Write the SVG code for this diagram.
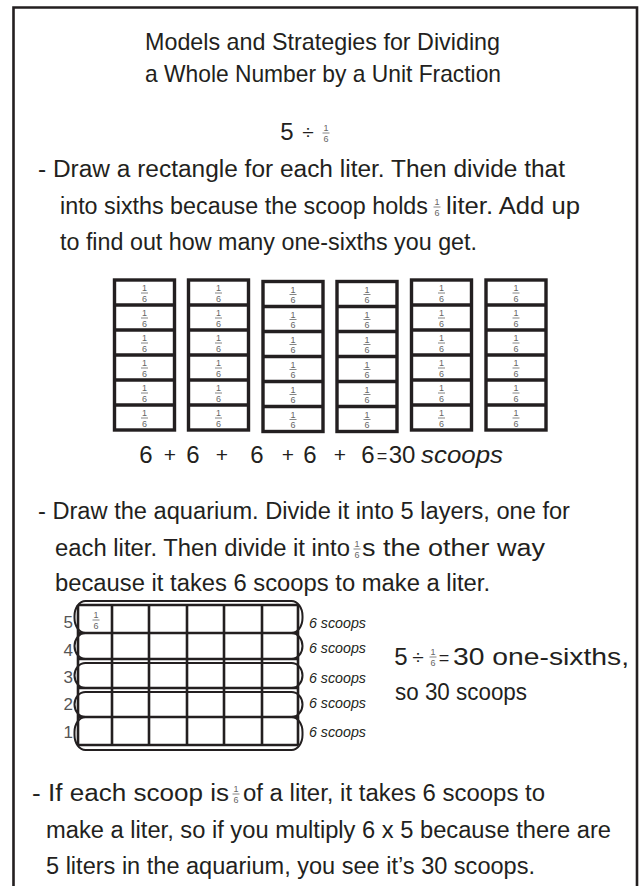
<svg xmlns="http://www.w3.org/2000/svg" width="642" height="886" viewBox="0 0 642 886">
<style>
text{font-family:"Liberation Sans",Arial,sans-serif;fill:#231f20}
.t{font-size:24px}
.b{font-size:23px}
.s{font-size:14px;font-style:italic}
.n{font-size:17px;fill:#555}
.op{font-size:21px;text-anchor:middle}
.eq{font-size:18px;text-anchor:middle}
.dg{font-size:24px;text-anchor:middle}
.fr{font-size:9px;fill:#666;text-anchor:middle}
.fb{stroke:#666;stroke-width:0.8}
.box{fill:none;stroke:#231f20;stroke-width:3.4}
.grid{stroke:#231f20;stroke-width:2.6;fill:none}
.cap{stroke:#231f20;stroke-width:2;fill:none}
</style>
<defs>
<g id="f"><text class="fr" x="0" y="-2">1</text><line class="fb" x1="-3.5" y1="0" x2="3.5" y2="0"/><text class="fr" x="0" y="8.5">6</text></g>
<g id="col">
<rect class="box" x="0" y="0" width="60" height="150"/>
<line class="box" x1="0" y1="25" x2="60" y2="25"/>
<line class="box" x1="0" y1="50" x2="60" y2="50"/>
<line class="box" x1="0" y1="75" x2="60" y2="75"/>
<line class="box" x1="0" y1="100" x2="60" y2="100"/>
<line class="box" x1="0" y1="125" x2="60" y2="125"/>
<use href="#f" x="30" y="13"/><use href="#f" x="30" y="38"/><use href="#f" x="30" y="63"/>
<use href="#f" x="30" y="88"/><use href="#f" x="30" y="113"/><use href="#f" x="30" y="138"/>
</g>
</defs>
<rect width="642" height="886" fill="#fff"/>
<path d="M13.5,890 V7.5 H637 V890" fill="none" stroke="#231f20" stroke-width="2.6"/>

<g id="title">
<text class="t" x="145" y="50" textLength="355" lengthAdjust="spacingAndGlyphs">Models and Strategies for Dividing</text>
<text class="t" x="145" y="82" textLength="356" lengthAdjust="spacingAndGlyphs">a Whole Number by a Unit Fraction</text>
</g>

<g id="equation">
<text class="dg" x="287" y="140">5</text>
<text class="op" x="308" y="139">÷</text>
<use href="#f" x="326" y="133"/>
</g>

<g id="para1">
<text class="b" x="38" y="177" textLength="527" lengthAdjust="spacingAndGlyphs">- Draw a rectangle for each liter. Then divide that</text>
<text class="b" x="60" y="214" textLength="368" lengthAdjust="spacingAndGlyphs">into sixths because the scoop holds</text>
<use href="#f" x="437" y="207"/>
<text class="b" x="446" y="214" textLength="134" lengthAdjust="spacingAndGlyphs">liter. Add up</text>
<text class="b" x="60" y="250" textLength="417" lengthAdjust="spacingAndGlyphs">to find out how many one-sixths you get.</text>
</g>

<g id="rectangles">
<use href="#col" x="114.5" y="280"/>
<use href="#col" x="188.5" y="280"/>
<use href="#col" x="263" y="281.5"/>
<use href="#col" x="337" y="281.5"/>
<use href="#col" x="411.5" y="280"/>
<use href="#col" x="486" y="280"/>
</g>

<g id="sum">
<text class="dg" x="146" y="463">6</text>
<text class="op" x="170" y="462">+</text>
<text class="dg" x="193" y="463">6</text>
<text class="op" x="222" y="462">+</text>
<text class="dg" x="257" y="463">6</text>
<text class="op" x="288" y="462">+</text>
<text class="dg" x="310" y="463">6</text>
<text class="op" x="340" y="462">+</text>
<text class="dg" x="368" y="463">6</text>
<text class="eq" x="382" y="462">=</text>
<text class="dg" x="402" y="463">30</text>
<text class="b" x="421" y="463" textLength="82" lengthAdjust="spacingAndGlyphs" style="font-style:italic">scoops</text>
</g>

<g id="para2">
<text class="b" x="38" y="519" textLength="532" lengthAdjust="spacingAndGlyphs">- Draw the aquarium. Divide it into 5 layers, one for</text>
<text class="b" x="55" y="556" textLength="295" lengthAdjust="spacingAndGlyphs">each liter. Then divide it into</text>
<use href="#f" x="357" y="549"/>
<text class="b" x="362" y="556" textLength="183" lengthAdjust="spacingAndGlyphs">s the other way</text>
<text class="b" x="55" y="591" textLength="435" lengthAdjust="spacingAndGlyphs">because it takes 6 scoops to make a liter.</text>
</g>

<g id="aquarium">
<g class="grid">
<line x1="78" y1="605" x2="298" y2="605"/>
<line x1="78" y1="633" x2="298" y2="633"/>
<line x1="78" y1="659" x2="298" y2="659"/>
<line x1="78" y1="688" x2="298" y2="688"/>
<line x1="78" y1="717" x2="298" y2="717"/>
<line x1="78" y1="745" x2="298" y2="745"/>
<line x1="78" y1="605" x2="78" y2="745"/>
<line x1="112" y1="605" x2="112" y2="745"/>
<line x1="149" y1="605" x2="149" y2="745"/>
<line x1="187" y1="605" x2="187" y2="745"/>
<line x1="224" y1="605" x2="224" y2="745"/>
<line x1="262" y1="605" x2="262" y2="745"/>
<line x1="298" y1="605" x2="298" y2="745"/>
</g>
<g class="cap">
<rect x="74.5" y="601" width="228" height="32" rx="11" ry="15"/>
<rect x="74.5" y="633" width="228" height="26" rx="11" ry="13"/>
<rect x="74.5" y="663" width="228" height="25" rx="11" ry="12.5"/>
<rect x="74.5" y="692" width="228" height="25" rx="11" ry="12.5"/>
<rect x="74.5" y="717" width="228" height="33" rx="11" ry="15"/>
</g>
<use href="#f" x="96" y="620"/>
<g>
<text class="n" x="73" y="628" text-anchor="end">5</text>
<text class="n" x="73" y="656" text-anchor="end">4</text>
<text class="n" x="73" y="683" text-anchor="end">3</text>
<text class="n" x="73" y="710" text-anchor="end">2</text>
<text class="n" x="73" y="738" text-anchor="end">1</text>
</g>
<g>
<text class="s" x="309" y="628" textLength="57" lengthAdjust="spacingAndGlyphs">6 scoops</text>
<text class="s" x="309" y="653" textLength="57" lengthAdjust="spacingAndGlyphs">6 scoops</text>
<text class="s" x="309" y="683" textLength="57" lengthAdjust="spacingAndGlyphs">6 scoops</text>
<text class="s" x="309" y="708" textLength="57" lengthAdjust="spacingAndGlyphs">6 scoops</text>
<text class="s" x="309" y="737" textLength="57" lengthAdjust="spacingAndGlyphs">6 scoops</text>
</g>
</g>

<g id="result">
<text class="dg" x="401" y="665">5</text>
<text class="op" x="418" y="664">÷</text>
<use href="#f" x="433" y="657"/>
<text class="eq" x="444" y="664">=</text>
<text class="t" x="453" y="665" textLength="176" lengthAdjust="spacingAndGlyphs">30 one-sixths,</text>
<text class="t" x="395" y="700" textLength="132" lengthAdjust="spacingAndGlyphs">so 30 scoops</text>
</g>

<g id="para3">
<text class="b" x="32" y="801" textLength="197" lengthAdjust="spacingAndGlyphs">- If each scoop is</text>
<use href="#f" x="236" y="794"/>
<text class="b" x="243" y="801" textLength="302" lengthAdjust="spacingAndGlyphs">of a liter, it takes 6 scoops to</text>
<text class="b" x="46" y="838" textLength="565" lengthAdjust="spacingAndGlyphs">make a liter, so if you multiply 6 x 5 because there are</text>
<text class="b" x="46" y="874" textLength="489" lengthAdjust="spacingAndGlyphs">5 liters in the aquarium, you see it’s 30 scoops.</text>
</g>
</svg>
